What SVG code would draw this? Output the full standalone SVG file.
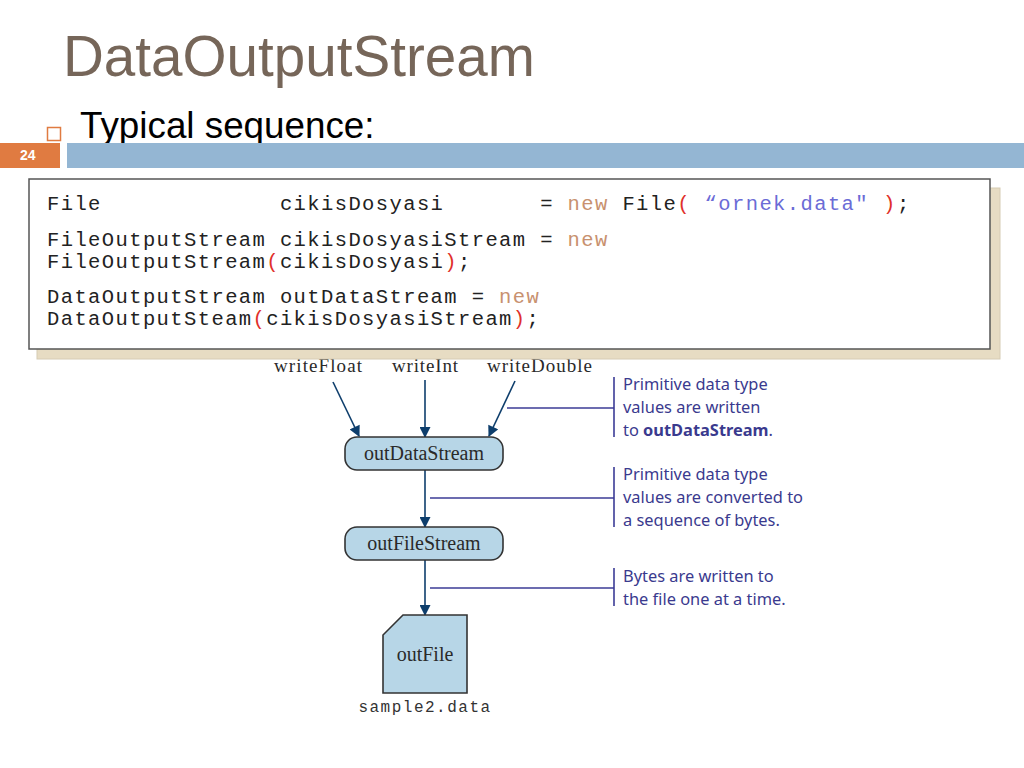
<svg xmlns="http://www.w3.org/2000/svg" width="1024" height="768" viewBox="0 0 1024 768">
<defs>
<style>
.title{font-family:"Liberation Sans",Arial,sans-serif;font-size:56.6px;fill:#766659}
.sub{font-family:"Liberation Sans",Arial,sans-serif;font-size:36.8px;fill:#000}
.code{font-family:"Liberation Mono","Courier New",monospace;font-size:20.5px;letter-spacing:1.4px;fill:#222}
.kw{fill:#c8916f}
.par{fill:#e0302a}
.str{fill:#6b6bd6}
.lbl{font-family:"Liberation Serif","Times New Roman",serif;font-size:19px;fill:#2a2a2a}
.nodetxt{font-family:"Liberation Serif","Times New Roman",serif;font-size:20px;fill:#2a2a2a;text-anchor:middle}
.node{fill:#b7d6e7;stroke:#333;stroke-width:1.6}
.ann{font-family:"Noto Sans","Open Sans",sans-serif;font-size:16.4px;fill:#3a3a8e}
.annline{stroke:#3b3b96;stroke-width:1.6;fill:none}
.edge{stroke:#0e3e6c;stroke-width:1.6;fill:none}
</style>
<marker id="ah" viewBox="0 0 10 10" refX="9" refY="5" markerWidth="12" markerHeight="11" orient="auto" markerUnits="userSpaceOnUse">
<path d="M0,0 L10,5 L0,10 z" fill="#0e3e6c"/>
</marker>
</defs>
<rect x="0" y="0" width="1024" height="768" fill="#fff"/>

<!-- header -->
<text class="title" x="63" y="76">DataOutputStream</text>
<rect x="47.5" y="127.5" width="13" height="13" fill="none" stroke="#e07b41" stroke-width="1.5"/>
<text class="sub" x="80" y="138">Typical sequence:</text>
<rect x="0" y="143" width="60" height="25" fill="#e07b41"/>
<text x="20" y="160" font-family="Liberation Sans,Arial,sans-serif" font-size="14" font-weight="bold" fill="#fff">24</text>
<rect x="67" y="143" width="957" height="25" fill="#94b6d3"/>

<!-- diagram labels (partially under code box) -->
<text class="lbl" x="274" y="372" textLength="88">writeFloat</text>
<text class="lbl" x="392" y="372" textLength="66">writeInt</text>
<text class="lbl" x="487" y="372" textLength="105">writeDouble</text>

<!-- code box -->
<rect x="37" y="188" width="963" height="171" fill="#e7dcc3" stroke="#d6ccb4" stroke-width="1"/>
<rect x="29" y="179" width="961" height="170" fill="#fff" stroke="#555" stroke-width="1.5"/>
<g id="code">
<text class="code" y="210"><tspan x="47">File</tspan><tspan x="279.9">cikisDosyasi</tspan><tspan x="540.2">=</tspan><tspan x="567.6" class="kw">new</tspan><tspan x="622.4">File</tspan><tspan x="677.2" class="par">(</tspan><tspan x="704.6" class="str">“ornek.data"</tspan><tspan x="883" class="par">)</tspan><tspan x="897">;</tspan></text>
<text class="code" y="246"><tspan x="47">FileOutputStream</tspan><tspan x="279.9">cikisDosyasiStream</tspan><tspan x="540.2">=</tspan><tspan x="567.6" class="kw">new</tspan></text>
<text class="code" y="268"><tspan x="47">FileOutputStream</tspan><tspan x="266.2" class="par">(</tspan><tspan x="279.9">cikisDosyasi</tspan><tspan x="444.3" class="par">)</tspan><tspan x="458">;</tspan></text>
<text class="code" y="303"><tspan x="47">DataOutputStream</tspan><tspan x="279.9">outDataStream</tspan><tspan x="471.7">=</tspan><tspan x="499.1" class="kw">new</tspan></text>
<text class="code" y="325"><tspan x="47">DataOutputSteam</tspan><tspan x="252.5" class="par">(</tspan><tspan x="266.2">cikisDosyasiStream</tspan><tspan x="512.8" class="par">)</tspan><tspan x="526.5">;</tspan></text>
</g>

<!-- connectors -->
<g id="connectors">
<line class="edge" x1="333" y1="382" x2="359" y2="436" marker-end="url(#ah)"/>
<line class="edge" x1="425" y1="380" x2="425" y2="437" marker-end="url(#ah)"/>
<line class="edge" x1="515" y1="381" x2="489" y2="436" marker-end="url(#ah)"/>
<line class="edge" x1="425" y1="470" x2="425" y2="527" marker-end="url(#ah)"/>
<line class="edge" x1="425" y1="560" x2="425" y2="615" marker-end="url(#ah)"/>
</g>

<!-- nodes -->
<g id="outDataStream">
<rect class="node" x="345" y="437" width="158" height="33" rx="12"/>
<text class="nodetxt" x="424" y="460">outDataStream</text>
</g>
<g id="outFileStream">
<rect class="node" x="345" y="527" width="158" height="33" rx="12"/>
<text class="nodetxt" x="424" y="550">outFileStream</text>
</g>
<g id="outFile">
<path class="node" d="M403,615 L467,615 L467,693 L383,693 L383,635 Z"/>
<text class="nodetxt" x="425" y="661">outFile</text>
<text x="425" y="712" text-anchor="middle" font-family="Liberation Mono,Courier New,monospace" font-size="16" letter-spacing="1.5" fill="#333">sample2.data</text>
</g>

<!-- annotations -->
<g id="ann1">
<line class="annline" x1="507" y1="408" x2="614" y2="408"/>
<line class="annline" x1="614" y1="377" x2="614" y2="437"/>
<text class="ann" x="623" y="390">Primitive data type</text>
<text class="ann" x="623" y="413">values are written</text>
<text class="ann" x="623" y="436">to <tspan font-weight="bold">outDataStream</tspan>.</text>
</g>
<g id="ann2">
<line class="annline" x1="430" y1="498" x2="614" y2="498"/>
<line class="annline" x1="614" y1="467" x2="614" y2="527"/>
<text class="ann" x="623" y="480">Primitive data type</text>
<text class="ann" x="623" y="503">values are converted to</text>
<text class="ann" x="623" y="526">a sequence of bytes.</text>
</g>
<g id="ann3">
<line class="annline" x1="430" y1="588" x2="614" y2="588"/>
<line class="annline" x1="614" y1="568" x2="614" y2="606"/>
<text class="ann" x="623" y="582">Bytes are written to</text>
<text class="ann" x="623" y="605">the file one at a time.</text>
</g>
</svg>
